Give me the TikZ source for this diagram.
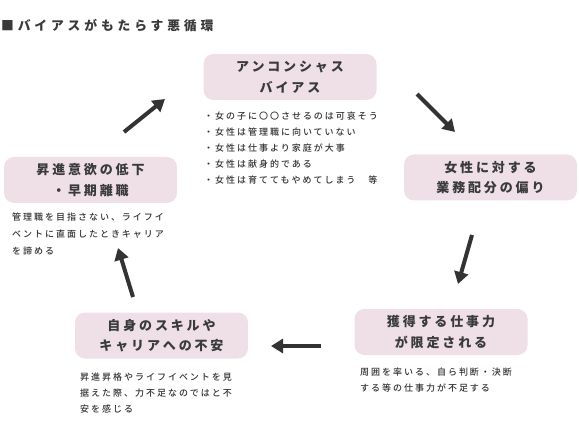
\documentclass[tikz,border=0pt]{standalone}
\usepackage{fontspec}
\usetikzlibrary{arrows.meta}
\newfontfamily\jptitle[LetterSpace=30]{Noto Sans CJK JP}
\newfontfamily\jpbox[LetterSpace=22]{Noto Sans CJK JP}
\newfontfamily\jpdesc[LetterSpace=22, UprightFont=* Medium]{Noto Sans CJK JP}
\definecolor{boxpink}{HTML}{EFDFE7}
\definecolor{boxtext}{HTML}{3A3A3A}
\definecolor{desctext}{HTML}{333333}
\definecolor{arrowgray}{HTML}{333333}
\tikzset{
  stagebox/.style={rounded corners=10pt, fill=boxpink, draw=none, minimum width=173pt, minimum height=46pt,
    align=center, inner sep=0pt, text=boxtext, font=\jpbox\bfseries\fontsize{13}{20.5}\selectfont},
  descline/.style={anchor=base west, inner sep=0pt, text=desctext, font=\jpdesc\fontsize{9}{16}\selectfont},
  cyclearrow/.style={draw=arrowgray, line width=4pt, -{Triangle[length=12pt,width=14pt]}},
}
\begin{document}
\begin{tikzpicture}[x=1pt,y=-1pt]
\useasboundingbox (0,0) rectangle (579,441);
\node[anchor=base west, inner sep=0pt, text=boxtext, font=\jptitle\bfseries\fontsize{12.8}{14}\selectfont] (title) at (1,30.5) {■バイアスがもたらす悪循環};

\node[stagebox] (top) at (290,77) {アンコンシャス\\バイアス};
\node[stagebox] (right) at (490.5,177.5) {女性に対する\\業務配分の偏り};
\node[stagebox] (bright) at (441,332) {獲得する仕事力\\が限定される};
\node[stagebox] (bleft) at (161.5,335.5) {自身のスキルや\\キャリアへの不安};
\node[stagebox] (left) at (90.5,180) {昇進意欲の低下\\・早期離職};

\node[descline] (t1) at (204,119.5) {・女の子に〇〇させるのは可哀そう};
\node[descline] (t2) at (204,135.5) {・女性は管理職に向いていない};
\node[descline] (t3) at (204,151.5) {・女性は仕事より家庭が大事};
\node[descline] (t4) at (204,167.5) {・女性は献身的である};
\node[descline] (t5) at (204,183.5) {・女性は育ててもやめてしまう　等};

\node[descline] (l1) at (12,220.5) {管理職を目指さない、ライフイ};
\node[descline] (l2) at (12,237.5) {ベントに直面したときキャリア};
\node[descline] (l3) at (12,254.5) {を諦める};

\node[descline] (bl1) at (80,380.5) {昇進昇格やライフイベントを見};
\node[descline] (bl2) at (80,396.5) {据えた際、力不足なのではと不};
\node[descline] (bl3) at (80,412.5) {安を感じる};

\node[descline] (br1) at (360,375.5) {周囲を率いる、自ら判断・決断};
\node[descline] (br2) at (360,391.5) {する等の仕事力が不足する};

\coordinate (a1s) at (124,132); \coordinate (a1e) at (165,99);
\coordinate (a2s) at (417,94);  \coordinate (a2e) at (455,132);
\coordinate (a3s) at (472,235); \coordinate (a3e) at (458,284);
\coordinate (a4s) at (321,346); \coordinate (a4e) at (271,346);
\coordinate (a5s) at (133,297); \coordinate (a5e) at (118,248);
\draw[cyclearrow] (a1s) -- (a1e);
\draw[cyclearrow] (a2s) -- (a2e);
\draw[cyclearrow] (a3s) -- (a3e);
\draw[cyclearrow] (a4s) -- (a4e);
\draw[cyclearrow] (a5s) -- (a5e);
\end{tikzpicture}
\end{document}
